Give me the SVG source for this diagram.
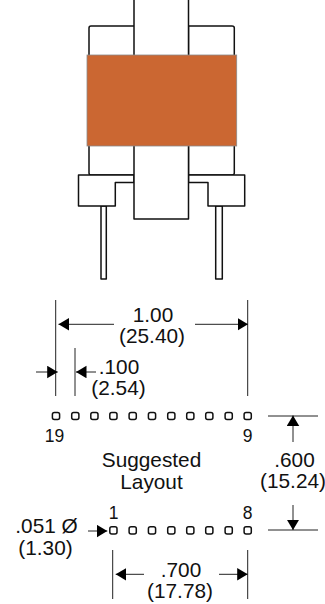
<svg xmlns="http://www.w3.org/2000/svg" width="325" height="604" viewBox="0 0 325 604">
<style>
.o{fill:#fff;stroke:#111;stroke-width:1.5;stroke-linejoin:round}
.d{fill:none;stroke:#222;stroke-width:1}
.h{fill:#fff;stroke:#111;stroke-width:1.5}
text{font-family:"Liberation Sans",Arial,sans-serif;font-size:20.800px;fill:#111;text-anchor:middle}
.s{font-size:17.500px}
</style>
<defs>
<marker id="a" markerUnits="userSpaceOnUse" markerWidth="12" markerHeight="13" refX="10.500" refY="6.250" orient="auto"><path d="M0 0L10.500 6.250L0 12.500Z" fill="#000"/></marker>
<rect id="p" x="-3.600" y="-3.600" width="7.200" height="7.200" rx="2" class="h"/>
</defs>
<g id="transformer">
<path class="o" d="M134 26H91Q89 26 89 28V173Q89 175 91 175H134M188.500 26H232Q234.300 26 234.300 28V173Q234.300 175 232 175H188.500Z"/>
<path class="o" d="M101 206H106.300V279H101ZM215.700 206H222.300V279H215.700Z"/>
<path class="o" d="M134 175H78.500V206H115.300V182.500H134ZM188.500 175H244.700V206H208V182.500H188.500Z"/>
<rect class="o" x="134" y="-3" width="54.500" height="222"/>
<rect x="87" y="55" width="149.700" height="91" fill="#cb6732" stroke="#8a8a8a" stroke-width="0.8"/>
</g>
<g id="connectors">
<path class="d" d="M55.700 300V396M247.700 300V396M75 348V396M268 416H318M268 530H318M112.700 550V599M247.700 550V599"/>
<path class="d" d="M114 324.300H58.500" marker-end="url(#a)"/>
<path class="d" d="M195 324.300H248" marker-end="url(#a)"/>
<path class="d" d="M36 372H57.700" marker-end="url(#a)"/>
<path class="d" d="M96 372H76" marker-end="url(#a)"/>
<path class="d" d="M293 442V415.500" marker-end="url(#a)"/>
<path class="d" d="M293 505V530" marker-end="url(#a)"/>
<path class="d" d="M88 531H107.300" marker-end="url(#a)"/>
<path class="d" d="M144 574.300H115.700" marker-end="url(#a)"/>
<path class="d" d="M219 574.300H247.700" marker-end="url(#a)"/>
</g>
<g id="holes-top">
<use href="#p" x="56" y="416"/><use href="#p" x="75.300" y="416"/><use href="#p" x="94.400" y="416"/><use href="#p" x="113.400" y="416"/><use href="#p" x="132.700" y="416"/><use href="#p" x="152" y="416"/><use href="#p" x="171.300" y="416"/><use href="#p" x="190.300" y="416"/><use href="#p" x="209.300" y="416"/><use href="#p" x="228.700" y="416"/><use href="#p" x="247.700" y="416"/>
</g>
<g id="holes-bottom">
<use href="#p" x="113.400" y="530.300"/><use href="#p" x="132.700" y="530.300"/><use href="#p" x="152" y="530.300"/><use href="#p" x="171.300" y="530.300"/><use href="#p" x="190.300" y="530.300"/><use href="#p" x="209.300" y="530.300"/><use href="#p" x="228.700" y="530.300"/><use href="#p" x="247.700" y="530.300"/>
</g>
<g id="labels">
<text x="153" y="321.700">1.00</text><text x="152" y="343">(25.40)</text>
<text x="119" y="373.500">.100</text><text x="118.500" y="394.700">(2.54)</text>
<text class="s" x="54.500" y="441.500">19</text><text class="s" x="247.500" y="441.500">9</text>
<text x="151.500" y="466.700">Suggested</text><text x="151.500" y="489">Layout</text>
<text x="294.500" y="467">.600</text><text x="293" y="488">(15.24)</text>
<text class="s" x="113.500" y="518.500">1</text><text class="s" x="247.500" y="518.500">8</text>
<text x="46.500" y="533">.051 Ø</text><text x="45.500" y="555">(1.30)</text>
<text x="181" y="577">.700</text><text x="180" y="598">(17.78)</text>
</g>
</svg>
